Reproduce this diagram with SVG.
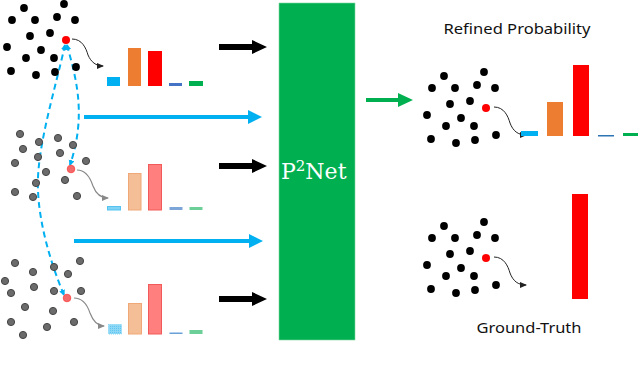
<svg xmlns="http://www.w3.org/2000/svg" width="640" height="376" viewBox="0 0 640 376">
<style>
.bd{fill:#000}
.gd{fill:#6b6b6b;stroke:#454545;stroke-width:1}
.lbl{font-family:"Noto Sans","Liberation Sans",Arial,sans-serif;font-size:15px;fill:#111}
.curve{fill:none;stroke:#222;stroke-width:1}
.curveg{fill:none;stroke:#888;stroke-width:1.2}
.dash{fill:none;stroke:#00B0F0;stroke-width:2;stroke-dasharray:6 4}
</style>
<defs>
<marker id="sm" markerWidth="8" markerHeight="8" refX="6" refY="3" orient="auto" markerUnits="userSpaceOnUse"><path d="M0,0 L7,3 L0,6 Z" fill="#222"/></marker>
<marker id="smg" markerWidth="8" markerHeight="8" refX="6" refY="3" orient="auto" markerUnits="userSpaceOnUse"><path d="M0,0 L7,3 L0,6 Z" fill="#888"/></marker>
<marker id="bm" markerWidth="8" markerHeight="8" refX="5" refY="3" orient="auto-start-reverse" markerUnits="userSpaceOnUse"><path d="M0,0 L6,3 L0,6 Z" fill="#00B0F0"/></marker>
<pattern id="dots" width="2" height="2" patternUnits="userSpaceOnUse"><rect width="2" height="2" fill="#8fd8f5"/><rect width="1" height="1" fill="#5ec6f0"/></pattern>
<g id="cloud">
<circle cx="24" cy="8" r="3.9"/><circle cx="64" cy="4" r="3.9"/><circle cx="12" cy="20" r="3.9"/><circle cx="35" cy="20" r="3.9"/><circle cx="57" cy="17" r="3.9"/><circle cx="75" cy="20" r="3.9"/><circle cx="30" cy="36" r="3.9"/><circle cx="50" cy="33" r="3.9"/><circle cx="7" cy="47" r="3.9"/><circle cx="41" cy="50" r="3.9"/><circle cx="26" cy="58" r="3.9"/><circle cx="54" cy="58" r="3.9"/><circle cx="11" cy="71" r="3.9"/><circle cx="36" cy="75" r="3.9"/><circle cx="55" cy="72" r="3.9"/><circle cx="76" cy="67" r="3.9"/>
</g>
</defs>

<g id="connectors">
<path d="M67,45 C74,72 88,112 70,165" class="dash" marker-start="url(#bm)" marker-end="url(#bm)"/>
<path d="M65,45 C55,90 36,150 38,190 C39,222 50,262 64,295" class="dash" marker-start="url(#bm)" marker-end="url(#bm)"/>
<g fill="#000">
<path d="M219,44 H252 V40 L267,47 L252,54 V50 H219 Z"/>
<path d="M219,163 H252 V159 L267,166 L252,173 V169 H219 Z"/>
<path d="M219,296 H252 V292 L267,299 L252,306 V302 H219 Z"/>
</g>
<g fill="#00B0F0">
<path d="M84,115 H248 V110 L262,117 L248,124 V119 H84 Z"/>
<path d="M74,239 H249 V234 L263,241 L249,248 V243 H74 Z"/>
</g>
<path d="M366,98 H398 V93 L413,100 L398,107 V102 H366 Z" fill="#00B050"/>
</g>

<g id="input-top">
<use href="#cloud" x="0" y="0" fill="#000"/>
<circle cx="66" cy="40" r="4" fill="#FF0000"/>
<path d="M72,39 C82,39 86,48 88,55 C91,62 96,66 103,66" class="curve" marker-end="url(#sm)"/>
<rect x="107" y="77" width="13" height="9" fill="#00B0F0"/>
<rect x="128" y="48" width="13" height="38" fill="#ED7D31"/>
<rect x="148" y="51" width="14" height="35" fill="#FF0000"/>
<rect x="169" y="83" width="13" height="3" fill="#4472C4"/>
<rect x="189" y="81" width="14" height="5" fill="#00B050"/>
</g>

<g id="input-mid">
<g class="gd">
<circle cx="20" cy="134" r="3.6"/><circle cx="39" cy="142" r="3.6"/><circle cx="58" cy="138" r="3.6"/><circle cx="73" cy="145" r="3.6"/><circle cx="23" cy="149" r="3.6"/><circle cx="38" cy="157" r="3.6"/><circle cx="60" cy="153" r="3.6"/><circle cx="86" cy="161" r="3.6"/><circle cx="15" cy="163" r="3.6"/><circle cx="46" cy="172" r="3.6"/><circle cx="36" cy="183" r="3.6"/><circle cx="65" cy="180" r="3.6"/><circle cx="15" cy="192" r="3.6"/><circle cx="33" cy="197" r="3.6"/><circle cx="77" cy="196" r="3.6"/>
</g>
<circle cx="71" cy="169" r="3.8" fill="#F26A6A" stroke="#FF4040" stroke-width="0.8"/>
<path d="M77,170 C87,170 91,180 93,186 C96,194 101,198 108,198" class="curveg" marker-end="url(#smg)"/>
<rect x="107.5" y="206.5" width="13" height="3.5" fill="#7fd3f5" stroke="#55c3ef" stroke-width="1"/>
<rect x="128.5" y="173.5" width="12.5" height="36.5" fill="#F4BE96" stroke="#f0a878" stroke-width="1"/>
<rect x="148.5" y="164.5" width="13" height="45.5" fill="#FF7F7F" stroke="#f25a5a" stroke-width="1"/>
<rect x="169.5" y="207" width="13" height="3" fill="#7ea5d8"/>
<rect x="189.5" y="207" width="13" height="3" fill="#6dcf98"/>
</g>

<g id="input-bottom">
<g class="gd">
<circle cx="15" cy="263" r="3.6"/><circle cx="33" cy="272" r="3.6"/><circle cx="54" cy="267" r="3.6"/><circle cx="68" cy="274" r="3.6"/><circle cx="80" cy="261" r="3.6"/><circle cx="5" cy="281" r="3.6"/><circle cx="11" cy="293" r="3.6"/><circle cx="34" cy="287" r="3.6"/><circle cx="54" cy="291" r="3.6"/><circle cx="81" cy="291" r="3.6"/><circle cx="25" cy="307" r="3.6"/><circle cx="53" cy="311" r="3.6"/><circle cx="11" cy="322" r="3.6"/><circle cx="47" cy="327" r="3.6"/><circle cx="74" cy="322" r="3.6"/><circle cx="23" cy="335" r="3.6"/>
</g>
<circle cx="67" cy="298" r="3.8" fill="#F26A6A" stroke="#FF4040" stroke-width="0.8"/>
<path d="M74,298 C84,298 88,307 90,313 C93,321 98,326 104,326" class="curveg" marker-end="url(#smg)"/>
<rect x="108.5" y="324.5" width="13" height="9.5" fill="url(#dots)" stroke="#7fd3f5" stroke-width="1" stroke-dasharray="1 1"/>
<rect x="128.5" y="303.5" width="13" height="30.5" fill="#F4BE96" stroke="#f0a878" stroke-width="1"/>
<rect x="148.5" y="284.5" width="13" height="49.5" fill="#FF7F7F" stroke="#f25a5a" stroke-width="1"/>
<rect x="169.5" y="332.5" width="13" height="1.5" fill="#6aa0d8"/>
<rect x="189.5" y="330" width="13" height="4" fill="#6dcf98"/>
</g>

<g id="p2net">
<rect x="279" y="3" width="76" height="337" fill="#00B050" stroke="#7fd6a0" stroke-width="0.6"/>
<text x="281" y="179" font-family="'DejaVu Serif','Liberation Serif',serif" font-size="22" fill="#fff">P<tspan font-size="15" dy="-8">2</tspan><tspan dy="8">Net</tspan></text>
</g>

<g id="refined">
<text x="517" y="34" class="lbl" text-anchor="middle" textLength="147" lengthAdjust="spacingAndGlyphs">Refined Probability</text>
<use href="#cloud" x="420" y="68" fill="#000"/>
<circle cx="486" cy="108" r="4" fill="#FF0000"/>
<path d="M494,107 C504,107 508,116 510,123 C513,131 518,135 526,135" class="curve" marker-end="url(#sm)"/>
<rect x="521" y="131" width="17" height="5" fill="#00B0F0"/>
<rect x="547" y="102" width="16" height="34" fill="#ED7D31"/>
<rect x="573" y="65" width="16" height="71" fill="#FF0000"/>
<rect x="598" y="135" width="16" height="1.5" fill="#2E75B6"/>
<rect x="623" y="133" width="15" height="3" fill="#00B050"/>
</g>

<g id="ground-truth">
<use href="#cloud" x="420" y="218" fill="#000"/>
<circle cx="486" cy="258" r="4" fill="#FF0000"/>
<path d="M494,257 C504,257 508,266 510,273 C513,281 518,285 526,285" class="curve" marker-end="url(#sm)"/>
<rect x="572" y="194" width="16" height="105" fill="#FF0000"/>
<text x="529" y="333" class="lbl" text-anchor="middle" textLength="105" lengthAdjust="spacingAndGlyphs">Ground-Truth</text>
</g>
</svg>
